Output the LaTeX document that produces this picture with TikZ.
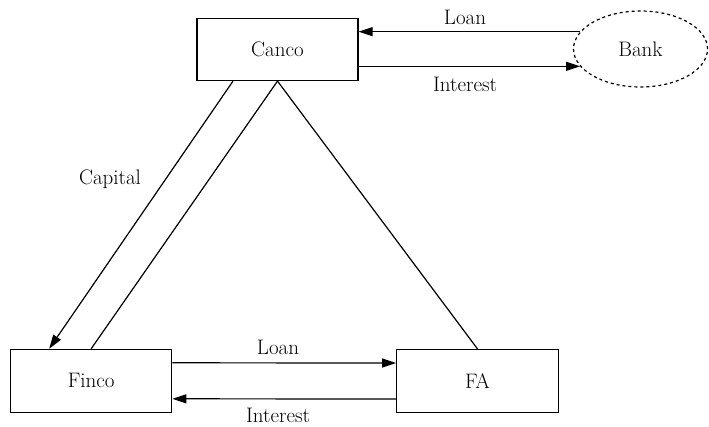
\documentclass[tikz,border=0pt]{standalone}
\usetikzlibrary{arrows.meta,shapes.geometric}
\begin{document}
\begin{tikzpicture}[x=1pt,y=-1pt,
  every node/.style={font=\fontsize{21}{25}\selectfont},
  box/.style={draw,line width=1.2pt,rectangle,minimum width=161pt,minimum height=63pt,inner sep=0pt},
  lbl/.style={inner sep=0pt},
  arr/.style={line width=1.2pt,-{Triangle[length=14pt,width=9pt]}},
  ln/.style={line width=1.2pt}]
\useasboundingbox (0,0) rectangle (709,426);
\node[box,minimum height=62pt] (canco) at (277.5,49.5) {Canco};
\node[draw,dashed,line width=1.2pt,ellipse,minimum width=134pt,minimum height=76pt,inner sep=0pt] (bank) at (640.5,49) {Bank};
\node[box] (finco) at (91.2,380.8) {Finco};
\node[box,minimum width=161.6pt] (fa) at (477.5,381) {FA};
% top arrows
\draw[arr] (bank.164) -- (bank.164 -| canco.east);
\draw[arr] (canco.east |- bank.196) -- (bank.196);
\node[lbl] (loan1) at (465,17) {Loan};
\node[lbl] (int1) at (465,84) {Interest};
% diagonals
\draw[arr] ([xshift=-44.5pt]canco.south) -- ([xshift=-42pt]finco.north);
\draw[ln] (finco.north) -- (canco.south);
\draw[ln] (canco.south) -- (fa.north);
\node[lbl] (cap) at (110,179) {Capital};
% bottom arrows
\draw[arr] ([yshift=18pt]finco.east) -- ([yshift=18pt]fa.west);
\draw[arr] ([yshift=-18pt]fa.west) -- ([yshift=-18pt]finco.east);
\node[lbl] (loan2) at (278,347) {Loan};
\node[lbl] (int2) at (278,415) {Interest};
\end{tikzpicture}
\end{document}
